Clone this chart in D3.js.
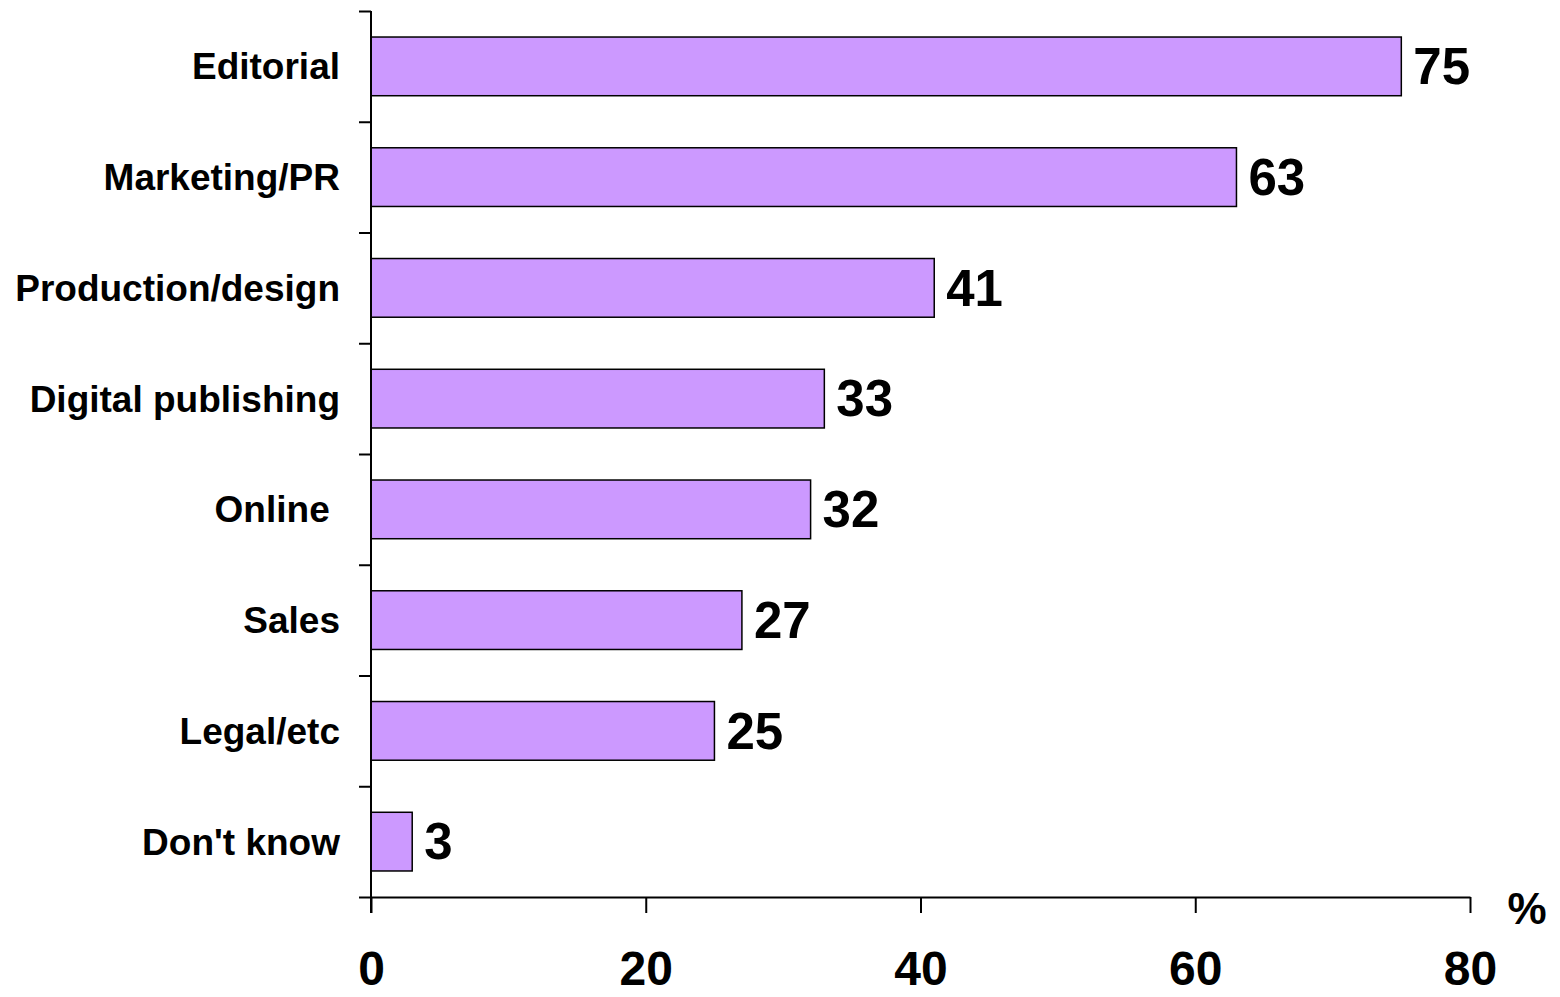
<!DOCTYPE html>
<html>
<head>
<meta charset="utf-8">
<script src="https://cdn.jsdelivr.net/npm/d3@7"></script>
<style>
  body { margin: 0; background: #fff; }
  svg { display: block; font-family: "Liberation Sans", Arial, sans-serif; font-weight: bold; }
</style>
</head>
<body>
<script>
// data
var categories = ["Editorial", "Marketing/PR", "Production/design", "Digital publishing", "Online ", "Sales", "Legal/etc", "Don't know"];
var values = [75, 63, 41, 33, 32, 27, 25, 3];
var xTicks = [0, 20, 40, 60, 80];
var unitLabel = "%";

var width = 1560, height = 997;
var svg = d3.select("body").append("svg")
  .attr("width", width).attr("height", height);

var x = d3.scaleLinear().domain([0, 80]).range([371, 1470]);
var y = d3.scaleBand().domain(categories).range([11, 897])
  .paddingInner(0.47).paddingOuter(0.235);
// band boundaries for the y ticks
var yEdge = d3.scaleLinear().domain([0, categories.length]).range([11, 897]);

// bars
svg.selectAll("rect.bar")
  .data(values)
  .enter().append("rect")
  .attr("class", "bar")
  .attr("x", x(0))
  .attr("y", function(d, i) { return y(categories[i]); })
  .attr("width", function(d) { return x(d) - x(0); })
  .attr("height", y.bandwidth())
  .attr("fill", "#CC99FF")
  .attr("stroke", "#000")
  .attr("stroke-width", 1.5);

// value labels
svg.selectAll("text.val")
  .data(values)
  .enter().append("text")
  .attr("class", "val")
  .attr("x", function(d) { return x(d) + 12; })
  .attr("y", function(d, i) { return y(categories[i]) + y.bandwidth() / 2; })
  .attr("dy", "0.35em")
  .attr("font-size", 51)
  .text(function(d) { return d; });

// y axis (ticks at band edges)
var yAxis = d3.axisLeft(yEdge)
  .tickValues(d3.range(categories.length + 1))
  .tickFormat("")
  .tickSize(12)
  .tickSizeOuter(0);
var gy = svg.append("g").attr("transform", "translate(371,0)").call(yAxis);
gy.select(".domain").remove();
gy.selectAll("line").attr("stroke", "#000").attr("stroke-width", 2);
svg.append("line")
  .attr("x1", 371).attr("x2", 371)
  .attr("y1", 11).attr("y2", 913)
  .attr("stroke", "#000").attr("stroke-width", 2);

// category labels
svg.selectAll("text.cat")
  .data(categories)
  .enter().append("text")
  .attr("class", "cat")
  .attr("x", 340)
  .attr("y", function(d) { return y(d) + y.bandwidth() / 2; })
  .attr("dy", "0.35em")
  .attr("text-anchor", "end")
  .attr("font-size", 37)
  .style("white-space", "pre")
  .text(function(d) { return d; });

// x axis
var xAxis = d3.axisBottom(x)
  .tickValues(xTicks)
  .tickSize(16)
  .tickSizeOuter(0)
  .tickPadding(38);
var gx = svg.append("g").attr("transform", "translate(0,897)").call(xAxis);
gx.select(".domain").attr("stroke", "#000").attr("stroke-width", 2);
gx.selectAll("line").attr("stroke", "#000").attr("stroke-width", 2);
gx.selectAll("text")
  .attr("font-size", 48)
  .attr("font-family", "'Liberation Sans', Arial, sans-serif")
  .attr("font-weight", "bold")
  .attr("fill", "#000");

svg.append("text")
  .attr("x", 1527).attr("y", 909)
  .attr("dy", "0.35em")
  .attr("text-anchor", "middle")
  .attr("font-size", 44)
  .text(unitLabel);
</script>
</body>
</html>
